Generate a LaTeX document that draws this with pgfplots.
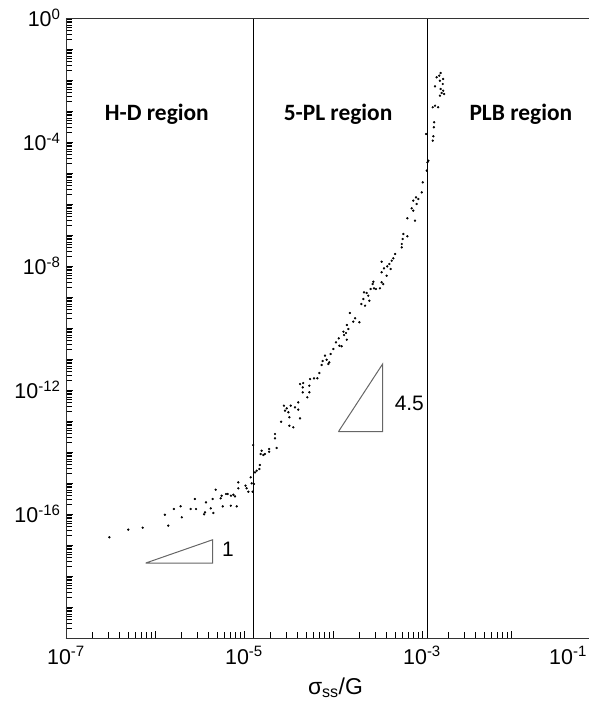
\documentclass[border=0pt]{standalone}
\usepackage{pgfplots}
\pgfplotsset{compat=1.18}
\usepackage{fontspec}
\setmainfont{Liberation Sans}
\newfontfamily\carlito{Carlito}
\begin{document}
\begin{tikzpicture}
\begin{axis}[
  scale only axis, width=523bp, height=620bp,
  xmode=log, ymode=log,
  xmin=1e-7, xmax=0.0752, ymin=1e-20, ymax=1,
  axis x line*=bottom, axis y line*=left,
  axis line style={black!80, line width=0.8bp},
  tick align=inside,
  tick style={black, line width=0.7bp},
  major tick length=7bp, minor tick length=6bp,
  xtick pos=bottom, ytick pos=left,
  xtickten={-7,-6,-5,-4,-3,-2},
  xticklabels={10\textsuperscript{-7},{},10\textsuperscript{-5},{},10\textsuperscript{-3},{}},
  ytickten={-20,-19,-18,-17,-16,-15,-14,-13,-12,-11,-10,-9,-8,-7,-6,-5,-4,-3,-2,-1,0},
  yticklabels={{},{},{},{},10\textsuperscript{-16},{},{},{},10\textsuperscript{-12},{},{},{},10\textsuperscript{-8},{},{},{},10\textsuperscript{-4},{},{},{},10\textsuperscript{0}},
  extra x ticks={0.0437},
  extra x tick labels={10\textsuperscript{-1}},
  extra x tick style={major tick length=0pt},
  tick label style={font=\fontsize{21.5}{24}\selectfont},
  xticklabel style={yshift=-5bp},
  yticklabel style={xshift=-2bp},
  xlabel={σ\textsubscript{ss}/G},
  xlabel style={font=\fontsize{23}{26}\selectfont, xshift=8bp, yshift=-6bp},
  clip=false,
]
\addplot[black, line width=0.8bp] coordinates {(1.26e-5,1e-20) (1.26e-5,1)};
\addplot[black, line width=0.8bp] coordinates {(1.14e-3,1e-20) (1.14e-3,1)};
\addplot[black!60, line width=1bp] coordinates {(7.87e-7,2.62e-18) (4.45e-6,2.62e-18) (4.45e-6,1.48e-17) (7.87e-7,2.62e-18)};
\addplot[black!60, line width=1bp] coordinates {(1.15e-4,4.52e-14) (3.61e-4,4.52e-14) (3.61e-4,6.9e-12) (1.15e-4,4.52e-14)};
\addplot[only marks, mark=*, mark size=0.95bp, black] coordinates {
(3.07e-7,1.77e-17) (5.01e-7,3.12e-17) (7.28e-7,3.61e-17) (1.29e-6,9.48e-17) (1.41e-6,4.2e-17)
(1.63e-6,1.45e-16) (2.0e-6,7.83e-17) (1.94e-6,1.77e-16) (2.52e-6,1.45e-16) (2.81e-6,3.05e-16)
(2.89e-6,1.45e-16) (3.56e-6,9.77e-17) (3.74e-6,2.38e-16) (3.65e-6,1.13e-16) (4.23e-6,1.53e-16)
(4.45e-6,3.05e-16) (4.52e-6,1.08e-16) (4.81e-6,6.08e-16) (5.47e-6,3.21e-16) (5.61e-6,3.89e-16)
(5.77e-6,1.77e-16) (6.28e-6,4.42e-16) (6.56e-6,4.42e-16) (7.14e-6,3.89e-16) (7.1e-6,1.85e-16)
(7.59e-6,4.2e-16) (7.92e-6,3.72e-16) (8.28e-6,1.77e-16) (8.63e-6,1.05e-15) (8.63e-6,6.74e-16)
(1.04e-5,8.18e-16) (1.07e-5,6.74e-16) (1.12e-5,5.24e-16) (1.19e-5,1.53e-15) (1.22e-5,9.77e-16)
(1.25e-5,5.24e-16) (1.29e-5,9.29e-16)
(1.27e-5,1.68e-14) (1.33e-5,2.21e-15) (1.39e-5,2.49e-15) (1.49e-5,2.83e-15) (1.51e-5,3.81e-15)
(1.54e-5,8.61e-15) (1.58e-5,1.10e-14) (1.65e-5,8.0e-15) (1.72e-5,8.61e-15) (1.92e-5,1.25e-14)
(1.92e-5,1.02e-14) (2.33e-5,1.35e-14) (2.23e-5,3.81e-14) (2.23e-5,2.77e-14) (2.61e-5,9.48e-14)
(2.81e-5,3.12e-13) (2.89e-5,2.15e-13) (3.02e-5,2.57e-13) (3.15e-5,1.91e-13) (3.23e-5,1.32e-13)
(3.23e-5,7.05e-14) (3.58e-5,6.26e-14) (3.35e-5,3.12e-13) (3.74e-5,2.77e-13) (4.07e-5,4.01e-13)
(4.26e-5,1.22e-13) (4.07e-5,2.32e-13) (4.26e-5,1.56e-12) (4.63e-5,1.68e-12) (4.57e-5,1.22e-12)
(5.42e-5,1.38e-12) (5.42e-5,8.43e-13) (5.14e-5,5.82e-13) (4.57e-5,8.43e-13) (5.52e-5,2.26e-12)
(6.12e-5,2.38e-12) (6.67e-5,2.38e-12) (7.02e-5,3.53e-12) (7.46e-5,6.4e-12) (7.66e-5,8.61e-12)
(8.13e-5,1.28e-11) (8.49e-5,9.48e-12) (8.85e-5,6.9e-12) (9.08e-5,7.83e-12) (9.42e-5,1.45e-11)
(1.01e-4,2.1e-11) (1.08e-4,3.46e-11) (1.16e-4,4.66e-11) (1.18e-4,2.69e-11) (1.25e-4,2.57e-11)
(1.31e-4,7.6e-11) (1.33e-4,5.94e-11) (1.40e-4,6.9e-11) (1.43e-4,1.25e-10) (1.49e-4,9.29e-11)
(1.43e-4,4.2e-11) (1.55e-4,3.05e-10) (1.69e-4,1.6e-10) (1.77e-4,2.06e-10) (1.98e-4,1.53e-10)
(2.08e-4,5.94e-10) (2.19e-4,8.61e-10) (2.29e-4,5.24e-10) (2.23e-4,1.42e-9) (2.39e-4,1.35e-9)
(2.49e-4,1.10e-9) (2.56e-4,7.6e-10) (2.65e-4,1.81e-9) (2.79e-4,2.62e-9) (2.84e-4,3.12e-9)
(2.89e-4,1.91e-9) (3.04e-4,1.81e-9) (3.37e-4,1.91e-9) (3.52e-4,2.98e-9) (3.67e-4,2.62e-9)
(3.52e-4,6.27e-9) (3.52e-4,1.38e-8) (3.74e-4,8.43e-9) (4.01e-4,4.86e-9) (4.07e-4,9.77e-9)
(4.29e-4,1.16e-8) (4.45e-4,8.0e-9) (4.57e-4,1.48e-8) (4.76e-4,1.77e-8) (4.98e-4,2.44e-8)
(5.92e-4,5.13e-8) (5.92e-4,4.01e-8) (6.07e-4,7.43e-8) (6.17e-4,1.08e-7) (6.84e-4,9.08e-8)
(6.84e-4,3.46e-7) (7.66e-4,7.26e-7) (7.98e-4,6.08e-7) (8.34e-4,2.89e-7) (7.98e-4,1.28e-6)
(8.57e-4,1.64e-6) (8.71e-4,1.0e-6) (9.08e-4,1.45e-6) (9.93e-4,2.38e-6) (1.02e-3,5.01e-6)
(1.13e-3,1.19e-5) (1.15e-3,2.21e-5) (1.18e-3,2.49e-5) (1.11e-3,1.81e-4)
(1.32e-3,1.10e-4) (1.34e-3,1.53e-4) (1.36e-3,2.98e-4) (1.37e-3,4.32e-4) (1.40e-3,1.48e-3)
(1.32e-3,1.32e-3) (1.52e-3,1.32e-3) (1.40e-3,6.27e-3) (1.59e-3,3.12e-3) (1.66e-3,3.81e-3)
(1.73e-3,4.52e-3) (1.62e-3,5.13e-3) (1.71e-3,7.43e-3) (1.46e-3,1.22e-2) (1.56e-3,1.38e-2)
(1.62e-3,1.68e-2) (1.59e-3,9.48e-3) (1.73e-3,1.08e-2) (1.77e-3,3.53e-3)
};
\node[font=\carlito\bfseries\fontsize{23.5}{26}\selectfont] at (axis cs:1.05e-6,8e-4) {H-D region};
\node[font=\carlito\bfseries\fontsize{23.5}{26}\selectfont] at (axis cs:1.14e-4,8e-4) {5-PL region};
\node[font=\carlito\bfseries\fontsize{23.5}{26}\selectfont] at (axis cs:1.29e-2,8e-4) {PLB region};
\node[font=\fontsize{21}{24}\selectfont] at (axis cs:6.61e-6,7.43e-18) {1};
\node[font=\fontsize{21}{24}\selectfont] at (axis cs:7.2e-4,3.81e-13) {4.5};
\draw[black!80, line width=0.8bp] (rel axis cs:0,1) -- (rel axis cs:1,1);
\end{axis}
\pgfresetboundingbox
\path[use as bounding box] (-66bp,-67bp) rectangle (523bp,638bp);
\end{tikzpicture}
\end{document}
